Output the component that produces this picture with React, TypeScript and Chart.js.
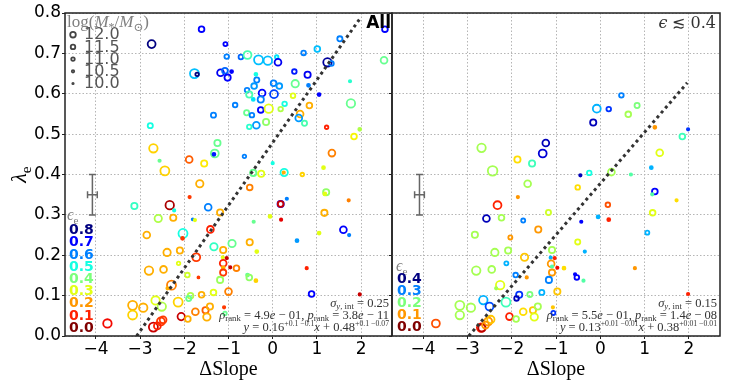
import React, { useEffect, useRef } from 'react';
import { Chart, registerables } from 'chart.js';
Chart.register(...registerables);

const W = 733;
const H = 382;
const X_MIN = -4.7;
const X_MAX = 2.7;
const Y_MIN = 0;
const Y_MAX = 0.8;
const xTickValues = [-4, -3, -2, -1, 0, 1, 2];
const yTickValues = [0, 0.1, 0.2, 0.3, 0.4, 0.5, 0.6, 0.7, 0.8];

// ---------- left panel: all galaxies ----------
const leftSlope = [
  -1.61, -2.74, -1.07, -1.04, -1.77, -1.71, -1.18, -1.08, -1.02, -1.34, -2.77, -1.25, -1.31, -1.33, -2.70, -2.56, -1.89, -1.55, -2.44,
  2.54, 1.52, 1.01, -0.72, -0.57, -0.32, -0.11, 0.09, 0.12, 0.70, 1.24, 1.33, 2.52, -0.93, -0.38, -0.36, 0.49, 0.79, 0.51, 0.81, 1.75,
  -0.58, -0.42, -0.53, -0.24, 0.02, 0.15, 0.03, -0.27, -0.44, -0.85, 0.46, 1.05, 0.83, 0.27, 1.77, -0.27, -0.09, 0.18, -0.59, -0.47,
  -0.15, -0.37, -0.53, 0.62, 0.59, 0.72, 1.22, 1.97, 1.84, 1.34, -0.64, 0.0, 1.15, -0.44, -0.26, 0.26, 0.25, 0.67,
  -1.65, -1.88, -3.13, -2.33, -2.23, -1.46, -2.59, -2.25, -1.81, -1.76, -1.19, -2.85, -2.03, -2.04, -1.41, -1.33, -2.39, -2.10, -1.73,
  -1.12, -2.80, -2.47, -2.13, -1.93, -1.68, -1.13, -1.12, -1.12, -1.12, -1.04, -1.19, -2.29, -2.38, -2.65, -2.51, -2.14, -1.86, -1.90,
  -1.61, -1.34, -1.0, -3.17, -3.17, -2.93, -3.74, -2.70, -2.53, -2.48, -2.61, -2.07, -1.92, -1.75, -1.52, -1.49, -1.42, -1.10, -1.08,
  -0.52, 1.21, 1.18, 1.72, 0.18, 0.18, 0.32, 1.17, -0.06, 0.19, -0.43, 1.60, 1.73, 1.05, -0.92, -0.52, 0.55, -0.36, -0.96, -0.82,
  0.77, -0.57, -0.53, -0.38, 0.88, 1.97,
];
const leftLambda = [
  0.76, 0.723, 0.723, 0.692, 0.65, 0.648, 0.652, 0.657, 0.64, 0.547, 0.521, 0.478, 0.452, 0.45, 0.465, 0.434, 0.437, 0.427, 0.409,
  0.76, 0.736, 0.711, 0.691, 0.696, 0.684, 0.682, 0.691, 0.678, 0.701, 0.678, 0.675, 0.683, 0.655, 0.648, 0.634, 0.655, 0.647, 0.625, 0.621, 0.631,
  0.609, 0.619, 0.598, 0.602, 0.626, 0.619, 0.599, 0.586, 0.586, 0.572, 0.595, 0.598, 0.571, 0.575, 0.576, 0.56, 0.563, 0.562, 0.553, 0.547,
  0.53, 0.522, 0.518, 0.55, 0.54, 0.527, 0.517, 0.512, 0.494, 0.453, 0.445, 0.428, 0.417, 0.404, 0.402, 0.405, 0.405, 0.40,
  0.377, 0.344, 0.322, 0.324, 0.311, 0.319, 0.291, 0.293, 0.289, 0.287, 0.306, 0.25, 0.254, 0.242, 0.264, 0.221, 0.207, 0.212, 0.195,
  0.213, 0.162, 0.165, 0.18, 0.151, 0.145, 0.195, 0.18, 0.169, 0.157, 0.193, 0.139, 0.126, 0.118, 0.088, 0.073, 0.084, 0.1, 0.093,
  0.102, 0.108, 0.11, 0.076, 0.052, 0.07, 0.031, 0.022, 0.036, 0.04, 0.025, 0.048, 0.042, 0.06, 0.064, 0.047, 0.073, 0.071, 0.056,
  0.368, 0.356, 0.352, 0.336, 0.327, 0.327, 0.34, 0.305, 0.296, 0.288, 0.283, 0.263, 0.25, 0.255, 0.229, 0.232, 0.236, 0.209, 0.17, 0.168,
  0.168, 0.151, 0.145, 0.137, 0.104, 0.103,
];
const leftEps = [
  0.7, 0.8, 0.7, 0.6, 0.55, 0.8, 0.72, 0.62, 0.7, 0.6, 0.5, 0.42, 0.42, 0.68, 0.25, 0.42, 0.15, 0.27, 0.25,
  0.7, 0.6, 0.55, 0.62, 0.45, 0.55, 0.55, 0.52, 0.72, 0.6, 0.78, 0.6, 0.42, 0.7, 0.5, 0.6, 0.68, 0.72, 0.42, 0.6, 0.48,
  0.6, 0.58, 0.45, 0.7, 0.6, 0.58, 0.65, 0.6, 0.52, 0.6, 0.3, 0.7, 0.22, 0.5, 0.42, 0.7, 0.3, 0.35, 0.42, 0.6,
  0.38, 0.58, 0.48, 0.22, 0.58, 0.45, 0.1, 0.35, 0.28, 0.18, 0.6, 0.5, 0.3, 0.42, 0.3, 0.5, 0.22, 0.25,
  0.22, 0.12, 0.47, 0.03, 0.5, 0.6, 0.35, 0.22, 0.6, 0.3, 0.22, 0.22, 0.5, 0.12, 0.1, 0.47, 0.22, 0.22, 0.12,
  0.22, 0.22, 0.22, 0.3, 0.32, 0.12, 0.3, 0.1, 0.22, 0.12, 0.05, 0.37, 0.18, 0.22, 0.3, 0.35, 0.25, 0.35, 0.42,
  0.22, 0.3, 0.18, 0.22, 0.25, 0.22, 0.08, 0.05, 0.12, 0.12, 0.1, 0.05, 0.22, 0.18, 0.15, 0.22, 0.22, 0.12, 0.42,
  0.18, 0.38, 0.3, 0.18, 0.7, 0.05, 0.6, 0.22, 0.3, 0.07, 0.42, 0.7, 0.6, 0.3, 0.42, 0.22, 0.58, 0.3, 0.05, 0.18,
  0.1, 0.42, 0.38, 0.25, 0.7, 0.05,
];
const leftLogM = [
  10.8, 11.2, 10.5, 10.6, 11.4, 10.4, 11.0, 10.8, 10.9, 10.7, 10.7, 10.9, 11.2, 10.3, 11.3, 10.2, 11.0, 10.9, 11.4,
  10.8, 10.7, 10.8, 10.6, 11.2, 11.4, 11.3, 10.4, 11.0, 10.6, 11.3, 10.6, 11.0, 10.3, 10.3, 10.7, 10.6, 10.9, 11.1, 10.3, 10.2,
  10.6, 10.8, 10.9, 11.0, 10.8, 10.8, 11.2, 10.9, 10.3, 10.6, 10.6, 10.3, 10.8, 10.6, 11.3, 10.8, 11.3, 10.6, 10.7, 10.6,
  10.9, 11.0, 10.6, 11.0, 11.0, 10.7, 10.4, 10.3, 10.8, 11.0, 10.4, 10.2, 10.3, 10.9, 10.9, 11.1, 10.2, 10.4,
  11.1, 10.2, 10.9, 11.3, 10.2, 11.0, 11.1, 10.9, 10.0, 10.2, 10.9, 11.0, 11.4, 10.3, 11.0, 11.1, 11.1, 10.9, 11.2,
  10.9, 11.3, 11.0, 10.4, 10.6, 10.1, 10.2, 11.0, 10.3, 10.9, 10.2, 10.9, 11.4, 10.2, 11.3, 11.3, 11.4, 10.8, 10.7,
  10.8, 10.8, 11.0, 11.4, 11.4, 11.3, 11.3, 11.4, 11.2, 11.0, 11.0, 11.1, 10.8, 11.0, 10.9, 11.1, 10.9, 10.2, 10.4,
  10.8, 10.9, 10.3, 10.2, 10.9, 10.8, 10.2, 10.9, 10.3, 10.2, 10.2, 11.0, 10.2, 10.3, 11.1, 10.9, 10.3, 10.3, 10.2, 10.8,
  10.2, 10.3, 10.8, 10.3, 10.8, 10.2,
];

// ---------- right panel: eps <= 0.4 ----------
const rightSlope = [
  0.475, -0.08, 0.19, 0.83, 0.63, -0.16, 1.23, 1.98, 1.85, -1.23, -1.30, -2.68, -1.87, -1.54, -2.43, -0.45, -0.25, 0.25, 0.69, 1.15, 1.34,
  -1.64, -0.51, -1.86, -2.32, -2.57, -2.23, -1.74, -1.17, -1.40, -2.83, -2.03, -2.38, -2.08, -1.71, -1.09, -2.80, -2.45, -2.12, -1.91, -1.66,
  -1.12, -1.11, -1.09, -1.03, -0.97, -1.09, -0.82, -1.16, -0.57, -0.53, -0.38, 0.17, 0.19, -0.43, -0.05, 1.23, 1.17, 1.72, 1.18, 1.06,
  -0.51, -0.35, 0.78, 1.98, -2.26, -2.35, -1.83, -1.89, -1.59, -1.32, -0.97, -2.64, -2.50, -2.13, -3.17, -3.17, -2.92, -3.71, -2.69, -2.67,
  -2.53, -2.47, -2.59, -2.05, -1.90, -1.74, -1.52, -1.49, -1.41, -1.07, -1.06,
];
const rightLambda = [
  0.596, 0.563, 0.562, 0.571, 0.549, 0.529, 0.517, 0.512, 0.494, 0.478, 0.452, 0.466, 0.437, 0.427, 0.409, 0.398, 0.404, 0.406, 0.40, 0.417, 0.454,
  0.377, 0.368, 0.344, 0.324, 0.291, 0.293, 0.286, 0.306, 0.264, 0.251, 0.244, 0.207, 0.212, 0.195, 0.213, 0.162, 0.165, 0.18, 0.151, 0.145,
  0.194, 0.179, 0.172, 0.193, 0.169, 0.157, 0.168, 0.139, 0.153, 0.145, 0.137, 0.325, 0.288, 0.283, 0.295, 0.358, 0.351, 0.336, 0.305, 0.256,
  0.233, 0.209, 0.168, 0.104, 0.126, 0.118, 0.102, 0.093, 0.103, 0.108, 0.11, 0.089, 0.073, 0.084, 0.076, 0.052, 0.07, 0.031, 0.021, 0.02,
  0.036, 0.041, 0.027, 0.048, 0.042, 0.06, 0.064, 0.047, 0.073, 0.071, 0.057,
];
const rightEps = [
  0.3, 0.28, 0.33, 0.2, 0.18, 0.38, 0.1, 0.33, 0.23, 0.38, 0.37, 0.18, 0.13, 0.23, 0.18, 0.38, 0.25, 0.18, 0.22, 0.28, 0.15,
  0.18, 0.13, 0.1, 0.05, 0.38, 0.18, 0.3, 0.16, 0.1, 0.18, 0.1, 0.18, 0.18, 0.12, 0.18, 0.18, 0.18, 0.28, 0.3, 0.1,
  0.28, 0.1, 0.22, 0.05, 0.04, 0.1, 0.13, 0.3, 0.35, 0.35, 0.22, 0.07, 0.05, 0.35, 0.28, 0.35, 0.22, 0.13, 0.15, 0.28,
  0.15, 0.28, 0.1, 0.05, 0.15, 0.18, 0.33, 0.38, 0.2, 0.28, 0.12, 0.28, 0.32, 0.23, 0.18, 0.18, 0.18, 0.07, 0.05, 0.02,
  0.1, 0.12, 0.1, 0.05, 0.18, 0.13, 0.12, 0.15, 0.18, 0.12, 0.33,
];
const rightLogM = [
  10.6, 11.2, 10.6, 10.7, 10.8, 10.9, 10.3, 10.2, 10.8, 11.0, 11.2, 11.3, 10.9, 10.9, 11.5, 10.2, 10.6, 11.0, 10.2, 10.3, 11.0,
  11.0, 10.6, 10.2, 11.2, 11.0, 10.8, 10.5, 10.7, 10.9, 10.9, 10.5, 11.1, 10.9, 11.1, 10.9, 11.3, 11.0, 10.5, 10.6, 10.2,
  10.2, 11.0, 10.2, 10.2, 10.2, 10.9, 10.3, 10.9, 10.2, 10.6, 10.2, 10.6, 10.3, 10.2, 10.3, 10.8, 10.2, 10.2, 10.8, 10.5,
  10.7, 10.2, 10.2, 10.2, 11.3, 10.2, 10.9, 10.6, 10.7, 10.7, 10.9, 11.3, 11.2, 11.4, 11.4, 11.3, 11.3, 11.2, 11.3, 11.1,
  11.2, 11.1, 11.0, 11.0, 10.8, 11.0, 10.9, 11.1, 10.9, 10.2, 10.5,
];

// best-fit lines (end points)
const leftFitSlope = [-3.08, 2.0];
const leftFitLambda = [0.0, 0.79];
const rightFitSlope = [-2.97, 1.96];
const rightFitLambda = [0.0, 0.627];

// typical error bar
const errBarSlope = [-4.08];
const errBarLambda = [0.35];
const errBarDSlope = [0.11];
const errBarDLambda = [0.05];

// legends
const massLegend = [12.0, 11.5, 11.0, 10.5, 10.0];
const epsLegendLeft = [0.8, 0.7, 0.6, 0.5, 0.4, 0.3, 0.2, 0.1, 0.0];
const epsLegendRight = [0.4, 0.3, 0.2, 0.1, 0.0];

const statsLeft = { sigma: '0.25', rho: '4.9', rhoExp: '01', p: '3.8', pExp: '11', a: '0.16', aErr: '+0.1 \u22120.1', b: '0.48', bErr: '+0.1 \u22120.07' };
const statsRight = { sigma: '0.15', rho: '5.5', rhoExp: '01', p: '1.4', pExp: '08', a: '0.13', aErr: '+0.01 \u22120.01', b: '0.38', bErr: '+0.01 \u22120.01' };

// ---------- helpers ----------
function interp(pts: number[][], t: number) {
  for (let i = 1; i < pts.length; i++) {
    if (t <= pts[i][0]) {
      const [x0, y0] = pts[i - 1];
      const [x1, y1] = pts[i];
      return y0 + ((t - x0) / (x1 - x0)) * (y1 - y0);
    }
  }
  return pts[pts.length - 1][1];
}
function jet(t: number) {
  t = Math.max(0, Math.min(1, t));
  const r = interp([[0, 0], [0.35, 0], [0.66, 1], [0.89, 1], [1, 0.5]], t);
  const g = interp([[0, 0], [0.125, 0], [0.375, 1], [0.64, 1], [0.91, 0], [1, 0]], t);
  const b = interp([[0, 0.5], [0.11, 1], [0.34, 1], [0.65, 0], [1, 0]], t);
  return `rgb(${Math.round(r * 255)},${Math.round(g * 255)},${Math.round(b * 255)})`;
}
const radiusFor = (m: number) => Math.max(1.0, 1.2 + (m - 10.2) * 2.75);
const legendRadius = (m: number) => Math.max(0.7, 0.7 + (m - 10) * 1.05);

type Run = { t: string; it?: boolean; sub?: boolean; sup?: boolean; bold?: boolean };
function drawRich(ctx: CanvasRenderingContext2D, runs: Run[], x: number, y: number, size: number, family: string, color: string, align: 'left' | 'right' | 'center') {
  const fontFor = (r: Run) => `${r.it ? 'italic ' : ''}${r.bold ? 'bold ' : ''}${r.sub ? size * 0.7 : r.sup ? size * 0.62 : size}px ${family}`;
  const widths = runs.map((r) => {
    ctx.font = fontFor(r);
    return ctx.measureText(r.t).width;
  });
  const total = widths.reduce((a, b) => a + b, 0);
  let cx = align === 'left' ? x : align === 'right' ? x - total : x - total / 2;
  ctx.fillStyle = color;
  ctx.textAlign = 'left';
  ctx.textBaseline = 'alphabetic';
  runs.forEach((r, i) => {
    ctx.font = fontFor(r);
    const dy = r.sub ? size * 0.22 : r.sup ? -size * 0.36 : 0;
    ctx.fillText(r.t, cx, y + dy);
    cx += widths[i];
  });
}

const SERIF = "'Liberation Serif', 'DejaVu Serif', serif";
const SANS = "'DejaVu Sans', sans-serif";

function statsRuns(s: typeof statsLeft): Run[][] {
  return [
    [{ t: '\u03c3', it: true }, { t: 'y', it: true, sub: true }, { t: ', int', sub: true }, { t: ' = ' + s.sigma }],
    [
      { t: '\u03c1', it: true }, { t: 'rank', sub: true }, { t: ' = ' + s.rho }, { t: 'e', it: true }, { t: ' \u2212 ' + s.rhoExp + ', ' },
      { t: 'p', it: true }, { t: 'rank', sub: true }, { t: ' = ' + s.p }, { t: 'e', it: true }, { t: ' \u2212 ' + s.pExp },
    ],
    [
      { t: 'y', it: true }, { t: ' = ' + s.a }, { t: s.aErr, sup: true }, { t: 'x', it: true }, { t: ' + ' + s.b }, { t: s.bErr, sup: true },
    ],
  ];
}

function decorPlugin(panel: 'L' | 'R') {
  return {
    id: 'decor' + panel,
    afterDraw(chart: any) {
      const ctx: CanvasRenderingContext2D = chart.ctx;
      const a = chart.chartArea;
      const xs = chart.scales.x;
      const ys = chart.scales.y;
      ctx.save();

      // error bar
      ctx.strokeStyle = '#666';
      ctx.lineWidth = 1.5;
      const ex = xs.getPixelForValue(errBarSlope[0]);
      const ey = ys.getPixelForValue(errBarLambda[0]);
      const ex0 = xs.getPixelForValue(errBarSlope[0] - errBarDSlope[0]);
      const ex1 = xs.getPixelForValue(errBarSlope[0] + errBarDSlope[0]);
      const ey0 = ys.getPixelForValue(errBarLambda[0] - errBarDLambda[0]);
      const ey1 = ys.getPixelForValue(errBarLambda[0] + errBarDLambda[0]);
      const cap = 3.5;
      ctx.beginPath();
      ctx.moveTo(ex, ey0); ctx.lineTo(ex, ey1);
      ctx.moveTo(ex0, ey); ctx.lineTo(ex1, ey);
      ctx.moveTo(ex - cap, ey0); ctx.lineTo(ex + cap, ey0);
      ctx.moveTo(ex - cap, ey1); ctx.lineTo(ex + cap, ey1);
      ctx.moveTo(ex0, ey - cap); ctx.lineTo(ex0, ey + cap);
      ctx.moveTo(ex1, ey - cap); ctx.lineTo(ex1, ey + cap);
      ctx.stroke();

      // frame
      ctx.strokeStyle = '#222';
      ctx.lineWidth = 1.5;
      ctx.strokeRect(a.left, a.top, a.right - a.left, a.bottom - a.top);

      // x title
      drawRich(ctx, [{ t: '\u0394Slope' }], (a.left + a.right) / 2, 375, 20, SERIF, '#000', 'center');

      // stats
      const runs = statsRuns(panel === 'L' ? statsLeft : statsRight);
      const rx = a.right - 3;
      drawRich(ctx, runs[0], rx, 306.5, 12.5, SERIF, '#333', 'right');
      drawRich(ctx, runs[1], rx, 318.5, 12.5, SERIF, '#333', 'right');
      drawRich(ctx, runs[2], rx, 330.5, 12.5, SERIF, '#333', 'right');

      if (panel === 'L') {
        // y title
        ctx.save();
        ctx.translate(26, (a.top + a.bottom) / 2);
        ctx.rotate(-Math.PI / 2);
        drawRich(ctx, [{ t: '\u03bb', it: true }, { t: 'e', sub: true }], 0, 0, 22, SERIF, '#000', 'center');
        ctx.restore();

        // "All"
        ctx.font = `bold 17px ${SANS}`;
        ctx.fillStyle = '#000';
        ctx.textAlign = 'right';
        ctx.textBaseline = 'alphabetic';
        ctx.fillText('All', a.right - 1, 28);

        // mass legend
        drawRich(ctx, [{ t: 'log(' }, { t: 'M', it: true }, { t: '*', sub: true }, { t: '/' }, { t: 'M', it: true }, { t: '\u2299', sub: true }, { t: ')' }], a.left + 2, 27, 17, SERIF, '#808080', 'left');
        massLegend.forEach((m, i) => {
          const cy = 34.7 + i * 12.2;
          const r = legendRadius(m);
          ctx.beginPath();
          ctx.arc(a.left + 8, cy, r, 0, Math.PI * 2);
          ctx.strokeStyle = '#444';
          ctx.lineWidth = 1.8;
          ctx.stroke();
          if (m <= 10.0) { ctx.fillStyle = '#444'; ctx.fill(); }
          ctx.font = `16px ${SANS}`;
          ctx.fillStyle = '#555';
          ctx.textAlign = 'left';
          ctx.textBaseline = 'middle';
          ctx.fillText(m.toFixed(1), a.left + 19, cy + 0.5);
        });

        // eps legend
        drawRich(ctx, [{ t: '\u03f5', it: true }, { t: 'e', sub: true }], a.left + 2, 220, 16, SERIF, '#808080', 'left');
        epsLegendLeft.forEach((v, i) => {
          const cy = 230.5 + i * 12.2;
          ctx.font = `bold 14px ${SANS}`;
          ctx.fillStyle = jet(1 - v / 0.8);
          ctx.textAlign = 'left';
          ctx.textBaseline = 'middle';
          ctx.fillText(v.toFixed(1), a.left + 4, cy);
        });
      } else {
        drawRich(ctx, [{ t: '\u03f5', it: true }, { t: ' \u2272 0.4' }], a.right - 4, 28, 16, "'DejaVu Serif', serif", '#333', 'right');
        drawRich(ctx, [{ t: '\u03f5', it: true }, { t: 'e', sub: true }], a.left + 4, 271, 16, SERIF, '#808080', 'left');
        epsLegendRight.forEach((v, i) => {
          const cy = 279.5 + i * 12.0;
          ctx.font = `bold 14px ${SANS}`;
          ctx.fillStyle = jet(1 - v / 0.4);
          ctx.textAlign = 'left';
          ctx.textBaseline = 'middle';
          ctx.fillText(v.toFixed(1), a.left + 5, cy);
        });
      }
      ctx.restore();
    },
  };
}

function makeConfig(panel: 'L' | 'R'): any {
  const xsArr = panel === 'L' ? leftSlope : rightSlope;
  const ysArr = panel === 'L' ? leftLambda : rightLambda;
  const eArr = panel === 'L' ? leftEps : rightEps;
  const mArr = panel === 'L' ? leftLogM : rightLogM;
  const epsMax = panel === 'L' ? 0.8 : 0.4;
  const fitX = panel === 'L' ? leftFitSlope : rightFitSlope;
  const fitY = panel === 'L' ? leftFitLambda : rightFitLambda;
  const pts = xsArr.map((x, i) => ({ x, y: ysArr[i] }));
  const colorAt = (i: number) => jet(1 - (eArr[i] ?? 0) / epsMax);
  const rAt = (i: number) => radiusFor(mArr[i] ?? 10.5);

  const gridCommon = {
    color: '#b5b5b5',
    lineWidth: 1,
    drawTicks: true,
    tickLength: 3,
    tickColor: '#222',
    tickWidth: 1,
  };

  return {
    type: 'scatter',
    data: {
      datasets: [
        {
          type: 'line',
          data: fitX.map((x, i) => ({ x, y: fitY[i] })),
          borderColor: '#333',
          borderWidth: 3,
          borderDash: [3, 3.4],
          pointRadius: 0,
          fill: false,
          order: 0,
        },
        {
          type: 'scatter',
          data: pts,
          order: 1,
          pointStyle: 'circle',
          pointRadius: (c: any) => rAt(c.dataIndex),
          pointHoverRadius: (c: any) => rAt(c.dataIndex),
          pointBorderWidth: 1.8,
          pointBorderColor: (c: any) => colorAt(c.dataIndex),
          pointBackgroundColor: (c: any) => (rAt(c.dataIndex) < 1.6 ? colorAt(c.dataIndex) : 'rgba(0,0,0,0)'),
        },
      ],
    },
    options: {
      responsive: false,
      animation: false,
      devicePixelRatio: 1,
      layout: {
        padding: panel === 'L' ? { left: 0, right: W - 392, top: 13, bottom: 0 } : { left: 392, right: W - 720, top: 13, bottom: 0 },
      },
      plugins: { legend: { display: false }, tooltip: { enabled: false }, title: { display: false } },
      scales: {
        x: {
          type: 'linear',
          min: X_MIN,
          max: X_MAX,
          afterBuildTicks: (s: any) => { s.ticks = xTickValues.map((v) => ({ value: v })); },
          afterFit: (s: any) => { s.height = H - 336; },
          ticks: {
            font: { family: 'DejaVu Sans', size: 17 },
            color: '#000',
            padding: 0,
            maxRotation: 0,
            autoSkip: false,
            callback: (v: number) => (v < 0 ? '\u2212' + Math.abs(v) : String(v)),
          },
          grid: gridCommon,
          border: { display: false, dash: [1.5, 2] },
        },
        y: {
          type: 'linear',
          min: Y_MIN,
          max: Y_MAX,
          afterBuildTicks: (s: any) => { s.ticks = yTickValues.map((v) => ({ value: v })); },
          afterFit: (s: any) => { s.width = panel === 'L' ? 65 : 0; },
          ticks: {
            display: panel === 'L',
            font: { family: 'DejaVu Sans', size: 17 },
            color: '#000',
            padding: 1,
            autoSkip: false,
            callback: (v: number) => v.toFixed(1),
          },
          grid: gridCommon,
          border: { display: false, dash: [1.5, 2] },
        },
      },
    },
    plugins: [decorPlugin(panel)],
  };
}

export default function App() {
  const leftRef = useRef<HTMLCanvasElement | null>(null);
  const rightRef = useRef<HTMLCanvasElement | null>(null);
  useEffect(() => {
    const charts: Chart[] = [];
    if (leftRef.current) charts.push(new Chart(leftRef.current, makeConfig('L')));
    if (rightRef.current) charts.push(new Chart(rightRef.current, makeConfig('R')));
    return () => charts.forEach((c) => c.destroy());
  }, []);
  const cs: React.CSSProperties = { position: 'absolute', left: 0, top: 0, width: W, height: H };
  return (
    <div style={{ position: 'fixed', left: 0, top: 0, width: W, height: H, background: '#fff' }}>
      <canvas ref={leftRef} width={W} height={H} style={cs} />
      <canvas ref={rightRef} width={W} height={H} style={cs} />
    </div>
  );
}
